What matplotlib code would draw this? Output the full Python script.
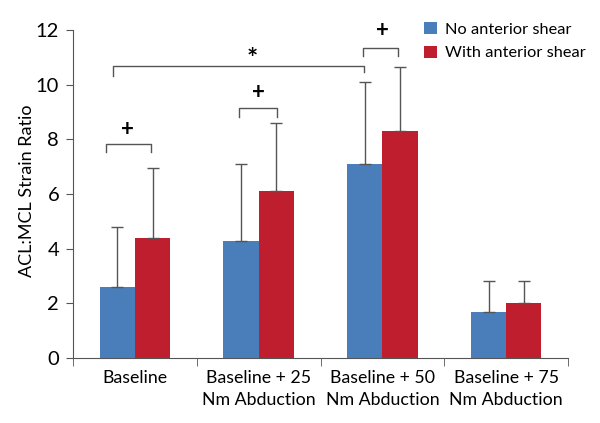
import numpy as np
import matplotlib.pyplot as plt

plt.rcParams['font.family'] = ['Lato', 'DejaVu Sans']

categories = ["Baseline", "Baseline + 25\nNm Abduction", "Baseline + 50\nNm Abduction", "Baseline + 75\nNm Abduction"]
no_shear = [2.6, 4.3, 7.1, 1.7]
no_shear_err = [2.2, 2.8, 3.0, 1.1]
with_shear = [4.4, 6.1, 8.3, 2.0]
with_shear_err = [2.55, 2.5, 2.35, 0.8]

fig = plt.figure(figsize=(6, 4.23), dpi=100)
ax = fig.add_axes([0.1217, 0.1537, 0.825, 0.775])

x = np.arange(len(categories))
w = 0.285
err_kw = dict(ecolor="#555555", elinewidth=1, capsize=4.5, capthick=1)
ax.bar(x - w / 2, no_shear, w, color="#4a7ebb", label="No anterior shear",
       yerr=[np.zeros(4), no_shear_err], error_kw=err_kw)
ax.bar(x + w / 2, with_shear, w, color="#be1e2d", label="With anterior shear",
       yerr=[np.zeros(4), with_shear_err], error_kw=err_kw)

ax.set_xlim(-0.5, 3.5)
ax.set_ylim(0, 12)
ax.set_yticks(np.arange(0, 13, 2))
ax.set_xticks(x, labels=categories)
plt.setp(ax.get_xticklabels(), linespacing=1.4)
ax.set_xticks(np.arange(-0.5, 4, 1), minor=True)
ax.tick_params(axis="x", which="major", length=0, labelsize=12.8, pad=9)
ax.tick_params(axis="x", which="minor", length=6, color="#555555", direction="out")
ax.tick_params(axis="y", labelsize=14.5, length=5, color="#555555", pad=5)
ax.set_ylabel("ACL:MCL Strain Ratio", fontsize=13)
ax.yaxis.set_label_coords(-0.077, 0.51)
for s in ["top", "right"]:
    ax.spines[s].set_visible(False)
for s in ["left", "bottom"]:
    ax.spines[s].set_color("#555555")

# significance brackets
def bracket(x0, x1, y, y0, y1, sym, sx, sy, size=16):
    ax.plot([x0, x0, x1, x1], [y0, y, y, y1], color="#555555", lw=1)
    ax.text(sx, sy, sym, ha="center", va="center", fontsize=size, fontweight="bold")

bracket(-0.23, 0.13, 7.83, 7.55, 7.55, "+", -0.06, 8.35)
bracket(0.84, 1.15, 9.14, 8.83, 8.83, "+", 1.0, 9.72)
bracket(1.84, 2.13, 11.35, 11.05, 11.05, "+", 2.0, 11.98)
bracket(-0.18, 1.85, 10.7, 10.32, 10.48, "*", 0.95, 10.95, size=19)

ax.legend(loc="upper left", bbox_to_anchor=(0.68, 1.07), frameon=False, fontsize=11.8,
          handlelength=0.75, handleheight=0.75, handletextpad=0.5, labelspacing=0.55)

fig.savefig("out.png")
